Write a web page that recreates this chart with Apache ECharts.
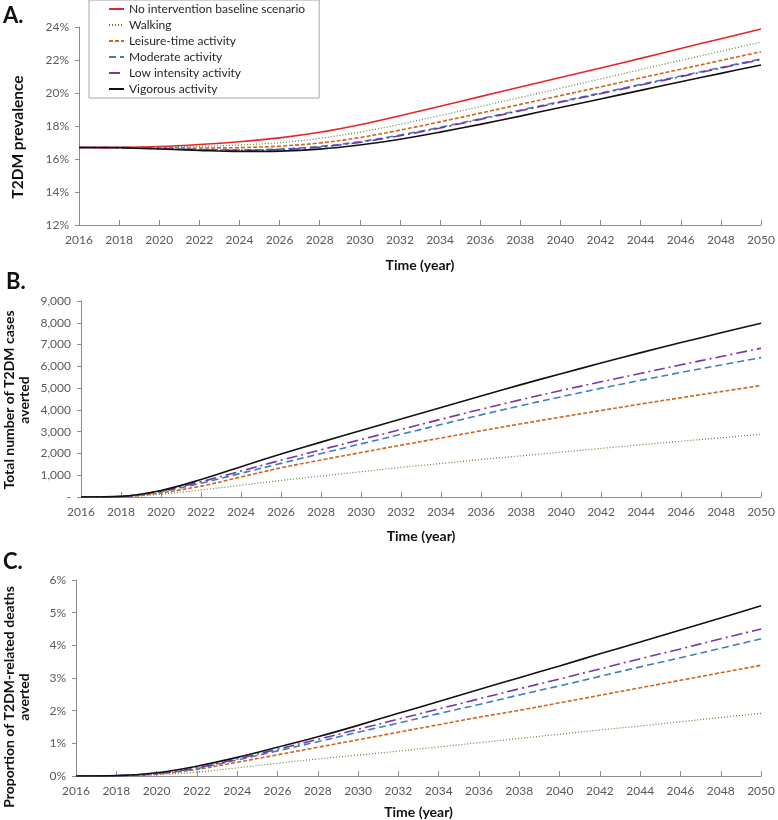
<!DOCTYPE html>
<html>
<head>
<meta charset="utf-8">
<script src="https://cdn.jsdelivr.net/npm/echarts@6/dist/echarts.min.js"></script>
<style>
html,body{margin:0;padding:0;background:#fff;}
#chart{width:778px;height:820px;}
</style>
</head>
<body>
<div id="chart"></div>
<script>
// ---- data ----
const years = [2016,2018,2020,2022,2024,2026,2028,2030,2032,2034,2036,2038,2040,2042,2044,2046,2048,2050];
const seriesNames = ['No intervention baseline scenario','Walking','Leisure-time activity','Moderate activity','Low intensity activity','Vigorous activity'];

// Panel A: T2DM prevalence (%)
const prevBaseline = [16.7,16.71,16.76,16.88,17.05,17.28,17.62,18.08,18.62,19.20,19.78,20.36,20.94,21.52,22.10,22.70,23.29,23.88];
const prevWalking  = [16.7,16.70,16.72,16.77,16.85,16.99,17.25,17.63,18.10,18.63,19.18,19.73,20.29,20.85,21.42,21.98,22.53,23.09];
const prevLeisure  = [16.7,16.70,16.68,16.67,16.69,16.78,16.97,17.30,17.75,18.25,18.78,19.31,19.84,20.37,20.91,21.44,21.97,22.50];
const prevModerate = [16.7,16.69,16.64,16.58,16.55,16.60,16.76,17.05,17.45,17.92,18.44,18.96,19.48,20.00,20.52,21.03,21.55,22.06];
const prevLow      = [16.7,16.69,16.63,16.56,16.52,16.57,16.72,17.01,17.41,17.88,18.40,18.92,19.44,19.96,20.48,20.99,21.51,22.02];
const prevVigorous = [16.7,16.68,16.61,16.52,16.46,16.48,16.60,16.85,17.20,17.63,18.10,18.60,19.12,19.64,20.16,20.68,21.19,21.70];

// Panel B: total number of T2DM cases averted
const casesWalking  = [0,10,130,320,540,760,960,1160,1360,1540,1720,1890,2060,2230,2400,2560,2720,2880];
const casesLeisure  = [0,15,190,500,920,1340,1700,2040,2380,2710,3040,3360,3670,3970,4270,4560,4840,5120];
const casesModerate = [0,20,250,630,1090,1545,1995,2440,2880,3330,3770,4195,4600,4990,5360,5720,6060,6400];
const casesLow      = [0,25,280,700,1190,1690,2170,2640,3100,3570,4030,4470,4890,5290,5680,6070,6450,6830];
const casesVigorous = [0,30,300,800,1390,1970,2520,3055,3580,4110,4640,5160,5660,6150,6630,7090,7540,7980];

// Panel C: proportion of T2DM-related deaths averted (%)
const deathsWalking  = [0,0.00,0.04,0.12,0.25,0.39,0.52,0.64,0.76,0.89,1.02,1.15,1.28,1.41,1.53,1.66,1.79,1.92];
const deathsLeisure  = [0,0.00,0.06,0.20,0.42,0.65,0.88,1.11,1.34,1.57,1.80,2.01,2.24,2.47,2.70,2.93,3.16,3.39];
const deathsModerate = [0,0.01,0.07,0.23,0.49,0.77,1.05,1.34,1.62,1.91,2.19,2.48,2.76,3.05,3.34,3.62,3.91,4.20];
const deathsLow      = [0,0.01,0.08,0.25,0.52,0.82,1.12,1.43,1.74,2.05,2.36,2.67,2.97,3.28,3.59,3.89,4.20,4.50];
const deathsVigorous = [0,0.01,0.10,0.30,0.57,0.88,1.20,1.55,1.92,2.28,2.65,3.01,3.37,3.74,4.10,4.47,4.84,5.21];

// ---- styles ----
const styles = {
  'No intervention baseline scenario': {color:'#E8242B', type:'solid', width:1.6},
  'Walking': {color:'#4F8A2F', type:[1,2], width:1.2},
  'Leisure-time activity': {color:'#D0651F', type:[4,2], width:1.6},
  'Moderate activity': {color:'#3A7FC0', type:[7,4], width:1.6},
  'Low intensity activity': {color:'#7536A8', type:[11,4,2,4], width:1.6},
  'Vigorous activity': {color:'#111111', type:'solid', width:1.6}
};

const FONT = 'Lato';
function mk(name, arr, xi) {
  const s = styles[name];
  return {
    name: name, type:'line', xAxisIndex: xi, yAxisIndex: xi,
    data: years.map((y,i)=>[y, arr[i]]),
    symbol:'circle', showSymbol:false, smooth:0.35,
    lineStyle:{color:s.color, type:s.type, width:s.width},
    itemStyle:{color:s.color},
    z: 3
  };
}

const axisLineCol = '#8c8c8c';
function xAx(gi, gap) {
  return {
    type:'value', gridIndex:gi, min:2016, max:2050, interval:2,
    axisLine:{show:true, lineStyle:{color:axisLineCol, width:1}},
    axisTick:{show:true, inside:true, length:5, lineStyle:{color:axisLineCol}},
    splitLine:{show:false},
    axisLabel:{color:'#595959', fontFamily:FONT, fontSize:12, margin:9, formatter:function(v){return String(v);}},
    name:'Time (year)', nameLocation:'middle', nameGap:gap,
    nameTextStyle:{color:'#111', fontFamily:FONT, fontWeight:'bold', fontSize:14}
  };
}
function yAx(gi, min, max, interval, fmt) {
  return {
    type:'value', gridIndex:gi, min:min, max:max, interval:interval,
    axisLine:{show:true, lineStyle:{color:axisLineCol, width:1}},
    axisTick:{show:true, length:4, lineStyle:{color:axisLineCol}},
    splitLine:{show:false},
    axisLabel:{color:'#595959', fontFamily:FONT, fontSize:12, margin:10, formatter:fmt}
  };
}
function vName(text, x, y, size) {
  return {type:'text', x:x, y:y, rotation:Math.PI/2,
    style:{text:text, font:'bold '+size+'px Lato', fill:'#111', align:'center', verticalAlign:'middle', lineHeight:15}};
}

const chart = echarts.init(document.getElementById('chart'), null, {renderer:'canvas'});
const option = {
  backgroundColor:'#fff',
  animation:false,
  legend:{
    data: seriesNames,
    orient:'vertical', left:89, top:0,
    itemWidth:15, itemHeight:14, itemGap:4,
    padding:[3,14,3,19],
    borderColor:'#a6a6a6', borderWidth:1,
    itemStyle:{opacity:0},
    textStyle:{fontFamily:FONT, fontSize:12, color:'#262626'},
    backgroundColor:'#fff', z:10
  },
  graphic:[
    {type:'text', left:3, top:5, style:{text:'A.', font:'bold 22px Lato', fill:'#111'}},
    {type:'text', left:6, top:271, style:{text:'B.', font:'bold 22px Lato', fill:'#111'}},
    {type:'text', left:3, top:551, style:{text:'C.', font:'bold 22px Lato', fill:'#111'}},
    vName('T2DM prevalence', 18, 137, 15.5),
    vName('Total number of T2DM cases\naverted', 17, 400, 14),
    vName('Proportion of T2DM-related deaths\naverted', 17, 697, 14)
  ],
  grid:[
    {left:79, top:27, width:682, height:198},
    {left:81, top:301, width:685, height:196},
    {left:76, top:580, width:690, height:197}
  ],
  xAxis:[xAx(0,33), xAx(1,32), xAx(2,29)],
  yAxis:[
    yAx(0,12,24,2,'{value}%'),
    yAx(1,0,9000,1000,function(v){return v===0?'-':v.toLocaleString('en-US');}),
    yAx(2,0,6,1,'{value}%')
  ],
  series:[
    mk(seriesNames[0], prevBaseline, 0),
    mk(seriesNames[1], prevWalking, 0),
    mk(seriesNames[2], prevLeisure, 0),
    mk(seriesNames[3], prevModerate, 0),
    mk(seriesNames[4], prevLow, 0),
    mk(seriesNames[5], prevVigorous, 0),
    mk(seriesNames[1], casesWalking, 1),
    mk(seriesNames[2], casesLeisure, 1),
    mk(seriesNames[3], casesModerate, 1),
    mk(seriesNames[4], casesLow, 1),
    mk(seriesNames[5], casesVigorous, 1),
    mk(seriesNames[1], deathsWalking, 2),
    mk(seriesNames[2], deathsLeisure, 2),
    mk(seriesNames[3], deathsModerate, 2),
    mk(seriesNames[4], deathsLow, 2),
    mk(seriesNames[5], deathsVigorous, 2)
  ]
};
chart.setOption(option);
</script>
</body>
</html>
